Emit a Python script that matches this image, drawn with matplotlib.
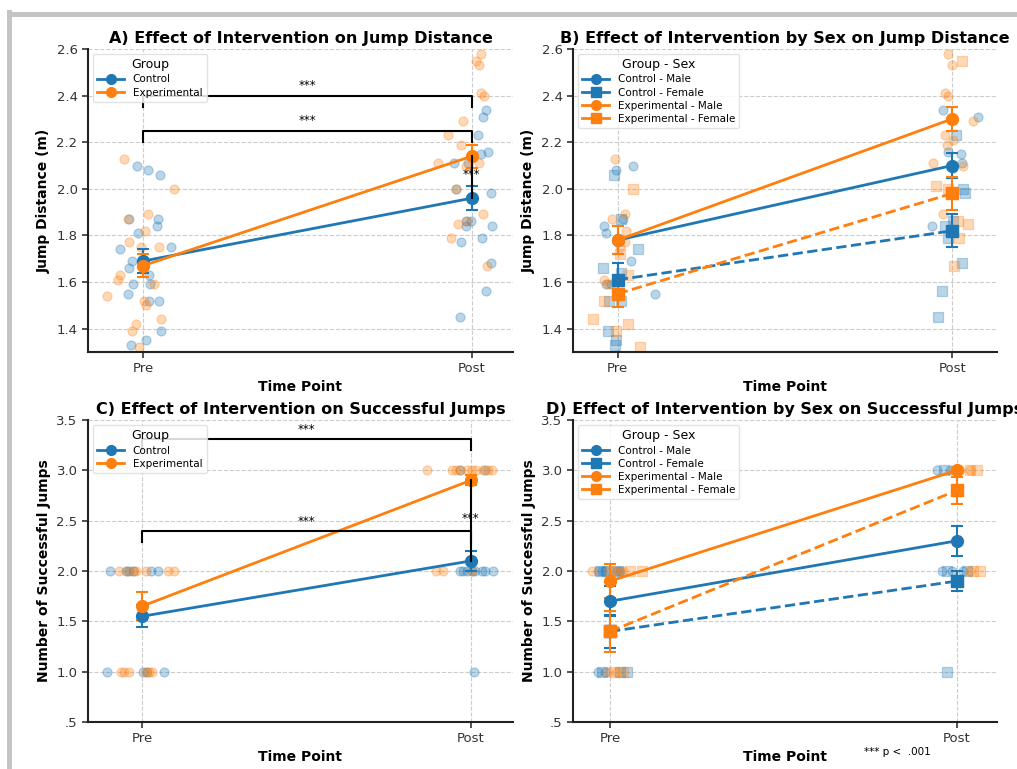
import matplotlib
matplotlib.use('Agg')
import matplotlib.pyplot as plt
from matplotlib.lines import Line2D
from matplotlib.patches import Rectangle

BLUE = '#1f77b4'
ORANGE = '#ff7f0e'

time_labels = ['Pre', 'Post']

# ---- Panel A: jump distance by group (individual points + means) ----
a_pre_ctrl_y = [2.10, 2.08, 2.06, 1.87, 1.87, 1.84, 1.81, 1.74, 1.75, 1.69, 1.66, 1.63, 1.59, 1.59, 1.55, 1.52, 1.52, 1.39, 1.35, 1.33]
a_pre_ctrl_j = [-0.018, 0.017, 0.051, -0.043, 0.045, 0.042, -0.015, -0.069, 0.086, -0.032, -0.043, 0.020, -0.030, 0.023, -0.046, 0.048, 0.020, 0.054, 0.010, -0.035]
a_pre_exp_y = [2.13, 2.00, 1.89, 1.87, 1.82, 1.77, 1.75, 1.75, 1.63, 1.61, 1.59, 1.54, 1.52, 1.50, 1.44, 1.42, 1.39, 1.32]
a_pre_exp_j = [-0.058, 0.094, 0.017, -0.046, 0.005, -0.041, 0.049, -0.005, -0.069, -0.076, 0.035, -0.108, 0.002, 0.010, 0.056, -0.020, -0.032, -0.012]
a_post_ctrl_y = [2.34, 2.31, 2.23, 2.16, 2.15, 2.11, 2.11, 2.00, 1.98, 1.86, 1.86, 1.84, 1.84, 1.79, 1.77, 1.68, 1.56, 1.45]
a_post_ctrl_j = [0.044, 0.033, 0.018, 0.049, 0.028, -0.012, -0.053, -0.048, 0.059, -0.017, -0.002, -0.019, 0.062, 0.031, -0.034, 0.057, 0.044, -0.037]
a_post_exp_y = [2.58, 2.55, 2.53, 2.41, 2.40, 2.29, 2.23, 2.19, 2.11, 2.10, 2.11, 2.00, 1.89, 1.85, 1.86, 1.79, 1.67]
a_post_exp_j = [0.028, 0.013, 0.023, 0.028, 0.038, -0.027, -0.073, -0.032, -0.103, -0.019, 0.023, -0.048, 0.033, -0.041, -0.014, -0.063, 0.046]
a_ctrl_mean = [1.69, 1.96]
a_ctrl_se = [0.05, 0.05]
a_exp_mean = [1.67, 2.14]
a_exp_se = [0.05, 0.05]

# ---- Panel B: jump distance by group and sex ----
b_pre_cm_y = [2.08, 2.10, 1.84, 1.81, 1.87, 1.69, 1.59, 1.55, 1.59]
b_pre_cm_j = [-0.005, 0.047, -0.042, -0.035, 0.015, 0.040, -0.035, 0.112, -0.020]
b_pre_cf_y = [2.06, 1.87, 1.74, 1.66, 1.64, 1.52, 1.52, 1.39, 1.35, 1.33]
b_pre_cf_j = [-0.012, 0.010, 0.060, -0.045, 0.010, -0.025, 0.010, -0.028, -0.005, -0.007]
b_pre_em_y = [2.13, 1.87, 1.89, 1.82, 1.77, 1.75, 1.61, 1.59]
b_pre_em_j = [-0.007, -0.017, 0.022, 0.026, 0.022, 0.008, -0.042, -0.030]
b_pre_ef_y = [2.00, 1.72, 1.63, 1.52, 1.44, 1.42, 1.39, 1.32]
b_pre_ef_j = [0.045, 0.007, 0.032, -0.040, -0.074, 0.030, -0.005, 0.065]
b_post_cm_y = [2.34, 2.31, 2.16, 2.15, 2.11, 1.84, 2.09]
b_post_cm_j = [-0.027, 0.077, -0.012, 0.025, 0.028, -0.060, 0.003]
b_post_cf_y = [2.23, 2.00, 1.98, 1.86, 1.79, 1.68, 1.56, 1.45, 1.84]
b_post_cf_j = [0.011, 0.033, 0.038, 0.003, -0.012, 0.028, -0.029, -0.042, -0.022]
b_post_em_y = [2.58, 2.53, 2.41, 2.40, 2.23, 2.19, 2.21, 2.11, 2.10, 2.29, 1.89]
b_post_em_j = [-0.012, 0.000, -0.022, -0.012, -0.022, -0.014, 0.003, -0.057, 0.033, 0.063, -0.027]
b_post_ef_y = [2.55, 2.01, 2.00, 1.86, 1.85, 1.79, 1.67]
b_post_ef_j = [0.028, -0.047, -0.012, 0.018, 0.048, 0.021, 0.005]
b_cm_mean = [1.78, 2.10]
b_cm_se = [0.06, 0.055]
b_cf_mean = [1.61, 1.82]
b_cf_se = [0.07, 0.07]
b_em_mean = [1.78, 2.30]
b_em_se = [0.06, 0.05]
b_ef_mean = [1.55, 1.98]
b_ef_se = [0.055, 0.07]

# ---- Panel C: successful jumps by group ----
c_pre_ctrl_y = [2, 2, 2, 2, 2, 2, 1, 1, 1, 1]
c_pre_ctrl_j = [-0.097, -0.049, -0.039, -0.028, 0.027, 0.048, -0.105, 0.002, 0.017, 0.068]
c_pre_exp_y = [2, 2, 2, 2, 2, 2, 2, 1, 1, 1, 1, 1, 1]
c_pre_exp_j = [-0.069, -0.044, -0.023, -0.018, 0.012, 0.078, 0.099, -0.064, -0.054, -0.039, 0.012, 0.022, 0.030]
c_post_ctrl_y = [2, 2, 2, 2, 2, 2, 2, 2, 3, 3, 1]
c_post_ctrl_j = [-0.033, -0.022, -0.012, 0.003, 0.013, 0.034, 0.044, 0.069, -0.033, 0.044, 0.010]
c_post_exp_y = [3, 3, 3, 3, 3, 3, 3, 3, 3, 3, 2, 2, 2]
c_post_exp_j = [-0.134, -0.058, -0.043, -0.033, -0.012, 0.003, 0.018, 0.039, 0.054, 0.064, -0.104, -0.083, 0.003]
c_ctrl_mean = [1.55, 2.10]
c_ctrl_se = [0.11, 0.10]
c_exp_mean = [1.65, 2.90]
c_exp_se = [0.14, 0.05]

# ---- Panel D: successful jumps by group and sex ----
d_pre_cm_y = [2, 2, 2, 2, 2, 1, 1]
d_pre_cm_j = [-0.034, -0.024, -0.014, 0.019, 0.029, -0.034, -0.014]
d_pre_cf_y = [2, 2, 2, 1, 1, 1]
d_pre_cf_j = [-0.029, -0.010, 0.024, -0.024, 0.029, 0.048]
d_pre_em_y = [2, 2, 2, 2, 1, 1]
d_pre_em_j = [-0.053, 0.010, 0.029, 0.038, -0.005, 0.019]
d_pre_ef_y = [2, 2, 2, 1, 1]
d_pre_ef_j = [0.000, 0.058, 0.091, 0.010, 0.038]
d_post_cm_y = [3, 3, 2, 2, 2]
d_post_cm_j = [-0.058, -0.019, -0.043, -0.014, 0.019]
d_post_cf_y = [3, 2, 2, 1]
d_post_cf_j = [-0.038, -0.029, 0.029, -0.029]
d_post_em_y = [3, 3, 3, 2]
d_post_em_j = [-0.010, 0.010, 0.038, 0.038]
d_post_ef_y = [3, 3, 2, 2]
d_post_ef_j = [0.038, 0.058, 0.048, 0.067]
d_cm_mean = [1.70, 2.30]
d_cm_se = [0.15, 0.15]
d_cf_mean = [1.40, 1.90]
d_cf_se = [0.16, 0.10]
d_em_mean = [1.90, 3.00]
d_em_se = [0.17, 0.02]
d_ef_mean = [1.40, 2.80]
d_ef_se = [0.20, 0.13]


def strip(ax, x0, jit, ys, color, marker='o'):
    xs = [x0 + j for j in jit]
    ax.scatter(xs, ys, s=42, marker=marker, color=color, alpha=0.3,
               edgecolors=color, linewidths=0.9, zorder=2)


def means(ax, m, se, color, marker='o', ls='-'):
    ax.errorbar([0, 1], m, yerr=se, color=color, marker=marker, markersize=8.5,
                lw=2, ls=ls, capsize=4.5, capthick=1.5, elinewidth=1.5, zorder=3)


def style(ax, title, ylabel, ylim, yticks, yticklabels, xlim):
    ax.set_title(title, fontsize=11.5, fontweight='bold', pad=4)
    ax.set_xlabel('Time Point', fontsize=10, fontweight='bold', labelpad=3)
    ax.set_ylabel(ylabel, fontsize=10, fontweight='bold')
    ax.set_xticks([0, 1])
    ax.set_xticklabels(time_labels, fontsize=9.5)
    ax.set_yticks(yticks)
    ax.set_yticklabels(yticklabels, fontsize=9.5)
    ax.set_ylim(*ylim)
    ax.set_xlim(*xlim)
    ax.grid(True, ls='--', color='#cccccc', lw=0.8)
    ax.set_axisbelow(True)
    for s in ['top', 'right']:
        ax.spines[s].set_visible(False)
    for s in ['left', 'bottom']:
        ax.spines[s].set_linewidth(1.5)
        ax.spines[s].set_color('#222222')
    ax.tick_params(length=4, width=1.2, colors='#333333')


def bracket(ax, y, drop, text_off):
    ax.plot([0, 0, 1, 1], [y - drop, y, y, y - drop], color='k', lw=1.5, zorder=4)
    ax.text(0.5, y + text_off, '***', ha='center', va='center', fontsize=8.5)


def legend(ax, entries, title):
    handles = [Line2D([0], [0], color=c, marker=mk, markersize=7, lw=2, ls=ls)
               for c, mk, ls in entries[1]]
    ax.legend(handles, entries[0], title=title, loc='upper left', fontsize=7.5,
              title_fontsize=9, framealpha=0.85, edgecolor='#dddddd',
              handlelength=2.6, borderpad=0.4, labelspacing=0.3)


fig = plt.figure(figsize=(10.17, 7.69), dpi=100)
axA = fig.add_axes([0.0865, 0.5423, 0.4179, 0.394])
axB = fig.add_axes([0.5634, 0.5423, 0.4169, 0.394])
axC = fig.add_axes([0.0865, 0.0611, 0.4179, 0.3927])
axD = fig.add_axes([0.5634, 0.0611, 0.4169, 0.3927])

# A
strip(axA, 0, a_pre_ctrl_j, a_pre_ctrl_y, BLUE)
strip(axA, 0, a_pre_exp_j, a_pre_exp_y, ORANGE)
strip(axA, 1, a_post_ctrl_j, a_post_ctrl_y, BLUE)
strip(axA, 1, a_post_exp_j, a_post_exp_y, ORANGE)
means(axA, a_ctrl_mean, a_ctrl_se, BLUE)
means(axA, a_exp_mean, a_exp_se, ORANGE)
bracket(axA, 2.40, 0.05, 0.045)
bracket(axA, 2.25, 0.05, 0.045)
axA.plot([1, 1], [a_exp_mean[1], a_ctrl_mean[1]], color='k', lw=1.5, zorder=4)
axA.text(1, (a_exp_mean[1] + a_ctrl_mean[1]) / 2 + 0.01, '***', ha='center', va='center', fontsize=8.5)
style(axA, 'A) Effect of Intervention on Jump Distance', 'Jump Distance (m)', (1.3, 2.6),
      [1.4, 1.6, 1.8, 2.0, 2.2, 2.4, 2.6], ['1.4', '1.6', '1.8', '2.0', '2.2', '2.4', '2.6'], (-0.167, 1.125))
legend(axA, (['Control', 'Experimental'], [(BLUE, 'o', '-'), (ORANGE, 'o', '-')]), 'Group')

# B
strip(axB, 0, b_pre_cm_j, b_pre_cm_y, BLUE)
strip(axB, 0, b_pre_cf_j, b_pre_cf_y, BLUE, 's')
strip(axB, 0, b_pre_em_j, b_pre_em_y, ORANGE)
strip(axB, 0, b_pre_ef_j, b_pre_ef_y, ORANGE, 's')
strip(axB, 1, b_post_cm_j, b_post_cm_y, BLUE)
strip(axB, 1, b_post_cf_j, b_post_cf_y, BLUE, 's')
strip(axB, 1, b_post_em_j, b_post_em_y, ORANGE)
strip(axB, 1, b_post_ef_j, b_post_ef_y, ORANGE, 's')
means(axB, b_cm_mean, b_cm_se, BLUE)
means(axB, b_cf_mean, b_cf_se, BLUE, 's', '--')
means(axB, b_em_mean, b_em_se, ORANGE)
means(axB, b_ef_mean, b_ef_se, ORANGE, 's', '--')
style(axB, 'B) Effect of Intervention by Sex on Jump Distance', 'Jump Distance (m)', (1.3, 2.6),
      [1.4, 1.6, 1.8, 2.0, 2.2, 2.4, 2.6], ['1.4', '1.6', '1.8', '2.0', '2.2', '2.4', '2.6'], (-0.134, 1.134))
sex_labels = ['Control - Male', 'Control - Female', 'Experimental - Male', 'Experimental - Female']
sex_styles = [(BLUE, 'o', '-'), (BLUE, 's', '-'), (ORANGE, 'o', '-'), (ORANGE, 's', '-')]
legend(axB, (sex_labels, sex_styles), 'Group - Sex')

# C
strip(axC, 0, c_pre_ctrl_j, c_pre_ctrl_y, BLUE)
strip(axC, 0, c_pre_exp_j, c_pre_exp_y, ORANGE)
strip(axC, 1, c_post_ctrl_j, c_post_ctrl_y, BLUE)
strip(axC, 1, c_post_exp_j, c_post_exp_y, ORANGE)
means(axC, c_ctrl_mean, c_ctrl_se, BLUE)
means(axC, c_exp_mean, c_exp_se, ORANGE)
bracket(axC, 3.31, 0.11, 0.10)
bracket(axC, 2.40, 0.11, 0.09)
axC.plot([1, 1], [c_exp_mean[1], c_ctrl_mean[1]], color='k', lw=1.5, zorder=4)
axC.text(1, (c_exp_mean[1] + c_ctrl_mean[1]) / 2 + 0.02, '***', ha='center', va='center', fontsize=8.5)
jump_ticks = [0.5, 1.0, 1.5, 2.0, 2.5, 3.0, 3.5]
jump_labels = ['.5', '1.0', '1.5', '2.0', '2.5', '3.0', '3.5']
style(axC, 'C) Effect of Intervention on Successful Jumps', 'Number of Successful Jumps', (0.5, 3.5),
      jump_ticks, jump_labels, (-0.164, 1.129))
legend(axC, (['Control', 'Experimental'], [(BLUE, 'o', '-'), (ORANGE, 'o', '-')]), 'Group')

# D
strip(axD, 0, d_pre_cm_j, d_pre_cm_y, BLUE)
strip(axD, 0, d_pre_cf_j, d_pre_cf_y, BLUE, 's')
strip(axD, 0, d_pre_em_j, d_pre_em_y, ORANGE)
strip(axD, 0, d_pre_ef_j, d_pre_ef_y, ORANGE, 's')
strip(axD, 1, d_post_cm_j, d_post_cm_y, BLUE)
strip(axD, 1, d_post_cf_j, d_post_cf_y, BLUE, 's')
strip(axD, 1, d_post_em_j, d_post_em_y, ORANGE)
strip(axD, 1, d_post_ef_j, d_post_ef_y, ORANGE, 's')
means(axD, d_cm_mean, d_cm_se, BLUE)
means(axD, d_cf_mean, d_cf_se, BLUE, 's', '--')
means(axD, d_em_mean, d_em_se, ORANGE)
means(axD, d_ef_mean, d_ef_se, ORANGE, 's', '--')
style(axD, 'D) Effect of Intervention by Sex on Successful Jumps', 'Number of Successful Jumps', (0.5, 3.5),
      jump_ticks, jump_labels, (-0.107, 1.116))
legend(axD, (sex_labels, sex_styles), 'Group - Sex')

fig.text(0.85, 0.022, '*** p <  .001', fontsize=7.5, ha='left', va='center')

# grey frame around the picture
fig.add_artist(Rectangle((7 / 1017, 0), 5 / 1017, 1 - 10 / 769, transform=fig.transFigure,
                         color='#c4c4c4', lw=0, zorder=10))
fig.add_artist(Rectangle((7 / 1017, 1 - 17 / 769), 1, 5 / 769, transform=fig.transFigure,
                         color='#c4c4c4', lw=0, zorder=10))

fig.savefig('out.png', dpi=100)
plt.close(fig)
